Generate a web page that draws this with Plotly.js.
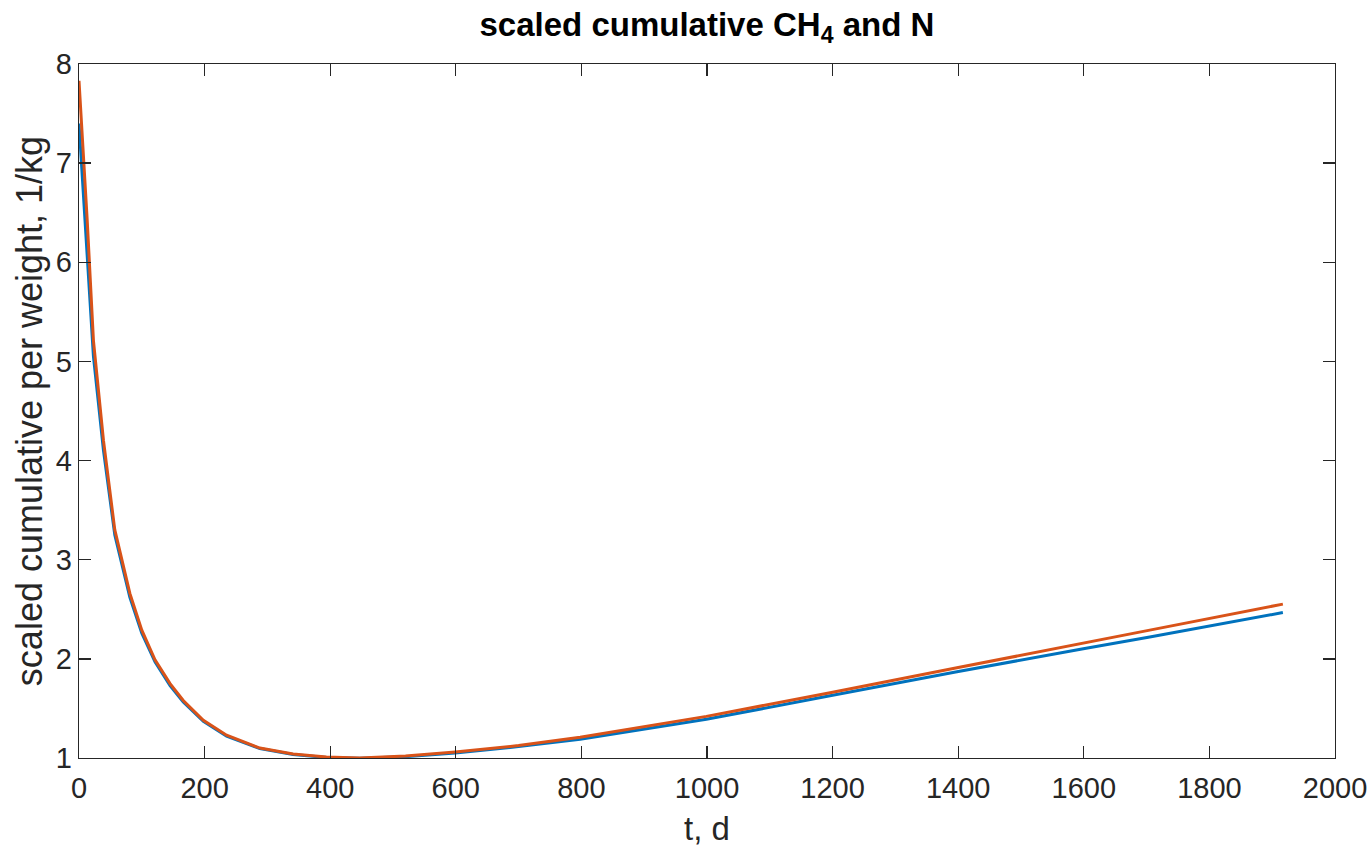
<!DOCTYPE html>
<html>
<head>
<meta charset="utf-8">
<script src="https://cdn.plot.ly/plotly-3.0.1.min.js"></script>
<style>html,body{margin:0;padding:0;background:#fff;}#chart{width:1370px;height:847px;}</style>
</head>
<body>
<div id="chart"></div>
<script>
const tDays = [0, 13, 23, 39, 57, 81, 100, 121, 145, 166, 198, 235, 288, 341, 394, 447, 520, 599, 700, 798, 999, 1198, 1398, 1597, 1705, 1917];
const seriesCH4 = [7.40, 6.06, 5.05, 4.10, 3.25, 2.62, 2.26, 1.97, 1.73, 1.565, 1.37, 1.22, 1.095, 1.035, 1.005, 0.998, 1.013, 1.05, 1.115, 1.19, 1.39, 1.63, 1.87, 2.10, 2.22, 2.467];
const seriesN = [7.83, 6.43, 5.21, 4.20, 3.30, 2.66, 2.29, 1.99, 1.75, 1.58, 1.38, 1.23, 1.10, 1.04, 1.01, 1.00, 1.02, 1.06, 1.125, 1.21, 1.42, 1.66, 1.91, 2.16, 2.29, 2.552];
const xTicks = [0, 200, 400, 600, 800, 1000, 1200, 1400, 1600, 1800, 2000];
const yTicks = [1, 2, 3, 4, 5, 6, 7, 8];

const FONT = 'Liberation Sans, Arial, Helvetica, sans-serif';
const axisCommon = {
  showgrid: false, zeroline: false, showline: true, linecolor: '#262626', linewidth: 1.3,
  mirror: 'ticks', ticks: 'inside', ticklen: 12, tickwidth: 1.3, tickcolor: '#262626',
  tickfont: {family: FONT, size: 29, color: '#262626'}
};

const data = [
  {x: tDays, y: seriesCH4, type: 'scatter', mode: 'lines', line: {color: '#0072BD', width: 3}, showlegend: false},
  {x: tDays, y: seriesN, type: 'scatter', mode: 'lines', line: {color: '#D95319', width: 3}, showlegend: false}
];

const layout = {
  width: 1370, height: 847,
  margin: {l: 79, r: 35, t: 64, b: 89},
  paper_bgcolor: '#fff', plot_bgcolor: '#fff',
  title: {text: '<b>scaled cumulative CH<sub>4</sub> and N</b>', x: 0.516, xanchor: 'center', y: 0.985, yanchor: 'top',
          font: {family: FONT, size: 33, color: '#000'}},
  xaxis: Object.assign({}, axisCommon, {range: [0, 2000], tickvals: xTicks, ticklabelstandoff: 4,
    title: {text: 't, d', standoff: 15, font: {family: FONT, size: 33, color: '#262626'}}}),
  yaxis: Object.assign({}, axisCommon, {range: [1, 8], tickvals: yTicks,
    title: {text: 'scaled cumulative per weight, 1/kg', standoff: 2, font: {family: FONT, size: 36, color: '#262626'}}})
};

Plotly.newPlot('chart', data, layout, {displayModeBar: false, staticPlot: true});
</script>
</body>
</html>
